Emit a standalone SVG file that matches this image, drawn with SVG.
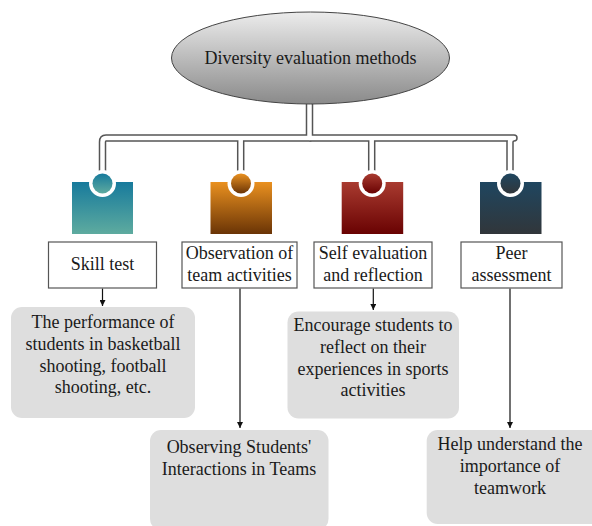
<svg xmlns="http://www.w3.org/2000/svg" width="592" height="526" viewBox="0 0 592 526">
<defs>
<linearGradient id="gEll" x1="0" y1="0" x2="0" y2="1"><stop offset="0" stop-color="#ececec"/><stop offset="1" stop-color="#8a8a8a"/></linearGradient>
<linearGradient id="gTeal" x1="0" y1="0" x2="0" y2="1"><stop offset="0" stop-color="#177a9c"/><stop offset="1" stop-color="#5eab9f"/></linearGradient>
<linearGradient id="gOrange" x1="0" y1="0" x2="0" y2="1"><stop offset="0" stop-color="#ea9120"/><stop offset="1" stop-color="#6a3406"/></linearGradient>
<linearGradient id="gRed" x1="0" y1="0" x2="0" y2="1"><stop offset="0" stop-color="#a93b30"/><stop offset="1" stop-color="#690202"/></linearGradient>
<linearGradient id="gNavy" x1="0" y1="0" x2="0" y2="1"><stop offset="0" stop-color="#1f4660"/><stop offset="1" stop-color="#31363a"/></linearGradient>
<marker id="arr" viewBox="0 0 10 10" refX="10" refY="5" markerWidth="6" markerHeight="6" markerUnits="userSpaceOnUse" orient="auto"><path d="M0,0 L10,5 L0,10 z" fill="#111"/></marker>
</defs>
<style>
.t{font-family:"Liberation Serif","Times New Roman",serif;font-size:18px;fill:#1a1a1a;text-anchor:middle}
.box{fill:#fff;stroke:#555;stroke-width:1.2}
.card{fill:#dedede}
.outer{fill:none;stroke:#555;stroke-width:7.5;stroke-linejoin:round}
.inner{fill:none;stroke:#fff;stroke-width:4.5;stroke-linejoin:round}
.arrow{fill:none;stroke:#111;stroke-width:1.2;marker-end:url(#arr)}
.notch{fill:#fff}
</style>
<g id="connectors">
<path class="outer" d="M309.5,104 V138 H106 Q102.5,138 102.5,142 V176"/>
<path class="outer" d="M309.5,138 H514 Q510,138 510,142 V176"/>
<path class="outer" d="M240.7,138 V176"/>
<path class="outer" d="M371.7,138 V176"/>
<path class="inner" d="M309.5,103 V138 H106 Q102.5,138 102.5,142 V176"/>
<path class="inner" d="M309.5,138 H514 Q510,138 510,142 V176"/>
<path class="inner" d="M240.7,138 V176"/>
<path class="inner" d="M371.7,138 V176"/>
<path class="arrow" d="M102.5,288.5 V306"/>
<path class="arrow" d="M240,288.5 V428"/>
<path class="arrow" d="M373.3,288.5 V310"/>
<path class="arrow" d="M510,288.5 V428"/>
</g>
<g id="root">
<ellipse cx="310.5" cy="58" rx="139" ry="46" fill="url(#gEll)" stroke="#444" stroke-width="1"/>
<text class="t" x="310.5" y="64">Diversity evaluation methods</text>
</g>
<g id="icon1">
<rect x="72" y="182" width="61" height="52" fill="url(#gTeal)"/>
<circle class="notch" cx="102.5" cy="183.5" r="13.5"/>
<circle cx="102.5" cy="183.5" r="10" fill="url(#gTeal)"/>
</g>
<g id="icon2">
<rect x="210.5" y="182" width="61.5" height="52" fill="url(#gOrange)"/>
<circle class="notch" cx="241" cy="183.5" r="13.5"/>
<circle cx="241" cy="183.5" r="10" fill="url(#gOrange)"/>
</g>
<g id="icon3">
<rect x="341.7" y="182" width="61.5" height="52" fill="url(#gRed)"/>
<circle class="notch" cx="372.2" cy="183.5" r="13.5"/>
<circle cx="372.2" cy="183.5" r="10" fill="url(#gRed)"/>
</g>
<g id="icon4">
<rect x="480" y="182" width="61.5" height="52" fill="url(#gNavy)"/>
<circle class="notch" cx="510.5" cy="183.5" r="13.5"/>
<circle cx="510.5" cy="183.5" r="10" fill="url(#gNavy)"/>
</g>
<g id="n-skill">
<rect class="box" x="48.5" y="242" width="108" height="46"/>
<text class="t" x="102.5" y="270">Skill test</text>
</g>
<g id="n-observation">
<rect class="box" x="182" y="242" width="115" height="46"/>
<text class="t" x="239.5" y="259">Observation of</text>
<text class="t" x="239.5" y="281">team activities</text>
</g>
<g id="n-self">
<rect class="box" x="314" y="242" width="118" height="46"/>
<text class="t" x="373" y="259">Self evaluation</text>
<text class="t" x="373" y="281">and reflection</text>
</g>
<g id="n-peer">
<rect class="box" x="461" y="242" width="101" height="46"/>
<text class="t" x="511.5" y="259">Peer</text>
<text class="t" x="511.5" y="281">assessment</text>
</g>
<g id="d-skill">
<rect class="card" x="11" y="307" width="184" height="111" rx="11"/>
<text class="t" x="103" y="328">The performance of</text>
<text class="t" x="103" y="350">students in basketball</text>
<text class="t" x="103" y="372">shooting, football</text>
<text class="t" x="103" y="393">shooting, etc.</text>
</g>
<g id="d-observation">
<rect class="card" x="150" y="430" width="178.5" height="100" rx="11"/>
<text class="t" x="239" y="453">Observing Students'</text>
<text class="t" x="239" y="475">Interactions in Teams</text>
</g>
<g id="d-self">
<rect class="card" x="287.5" y="311.5" width="171.5" height="107" rx="11"/>
<text class="t" x="373" y="331">Encourage students to</text>
<text class="t" x="373" y="353">reflect on their</text>
<text class="t" x="373" y="375">experiences in sports</text>
<text class="t" x="373" y="396">activities</text>
</g>
<g id="d-peer">
<rect class="card" x="426.7" y="430" width="175" height="94" rx="11"/>
<text class="t" x="510" y="450">Help understand the</text>
<text class="t" x="510" y="472">importance of</text>
<text class="t" x="510" y="494">teamwork</text>
</g>
</svg>
